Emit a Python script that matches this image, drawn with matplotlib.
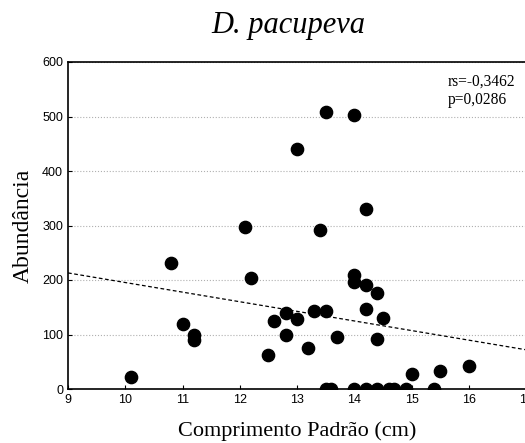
import numpy as np
import matplotlib
matplotlib.use("Agg")
import matplotlib.pyplot as plt

# comprimento padrao (cm) x abundancia
comp = [10.1, 10.8, 11.0, 11.2, 11.2, 12.1, 12.2, 12.5, 12.6, 12.8, 12.8,
        13.0, 13.0, 13.2, 13.3, 13.4, 13.5, 13.5, 13.5, 13.6, 13.7,
        14.0, 14.0, 14.0, 14.0, 14.2, 14.2, 14.2, 14.2, 14.4, 14.4, 14.4,
        14.5, 14.6, 14.7, 14.9, 15.0, 15.4, 15.5, 16.0]
abund = [22, 232, 120, 100, 90, 297, 203, 62, 125, 140, 100,
         440, 128, 75, 143, 292, 143, 509, 0, 0, 95,
         503, 210, 196, 0, 330, 190, 147, 0, 177, 92, 0,
         130, 0, 0, 0, 28, 0, 33, 42]

# linha de tendencia
trend_x = [9, 17]
trend_y = [213, 72]

fig = plt.figure(figsize=(5.25, 4.43), dpi=100)
ax = fig.add_axes([68/525, 1-389/443, 458/525, (389-62)/443])

ax.scatter(comp, abund, s=78, color='black', zorder=3, clip_on=True)
ax.plot(trend_x, trend_y, 'k--', lw=0.9, dashes=(3, 2))

ax.set_xlim(9, 17)
ax.set_ylim(0, 600)
ax.set_xticks(range(9, 18))
ax.set_yticks(range(0, 700, 100))
ax.yaxis.grid(True, color='#b0b0b0', ls=':', lw=0.8)
ax.tick_params(direction='in', length=3, labelsize=9, width=0.8)
for lab in ax.get_xticklabels() + ax.get_yticklabels():
    lab.set_family('Liberation Sans')
for s in ax.spines.values():
    s.set_linewidth(1.2)

serif = 'Liberation Serif'
fig.text(288/525, 1-25/443, 'D. pacupeva', ha='center', va='center',
         family=serif, style='italic', fontsize=22)
fig.text(297/525, 1-431/443, 'Comprimento Padrão (cm)', ha='center', va='center',
         family=serif, fontsize=16)
fig.text(23/525, 1-226/443, 'Abundância', ha='center', va='center',
         rotation=90, family=serif, fontsize=17)
fig.text(448/525, 1-74/443, 'rs=-0,3462\np=0,0286',
         family=serif, fontsize=11.2, va='top', ha='left', linespacing=1.15)

fig.savefig('out.png', dpi=100)
